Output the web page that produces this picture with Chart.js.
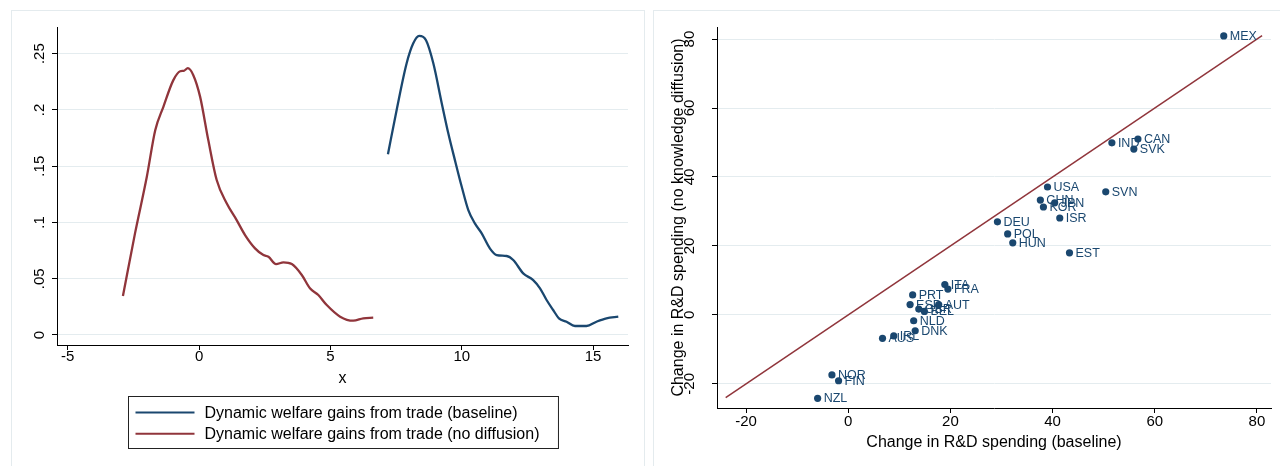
<!DOCTYPE html>
<html><head><meta charset="utf-8">
<script src="https://cdn.jsdelivr.net/npm/chart.js@4/dist/chart.umd.min.js"></script>
<style>
html,body{margin:0;padding:0;background:#fff;width:1280px;height:466px;overflow:hidden;}
.panel{position:absolute;border:1px solid #e4ebee;box-sizing:border-box;}
canvas{position:absolute;top:0;}
</style></head><body>
<div class="panel" style="left:11px;top:10px;width:634px;height:480px"></div>
<div class="panel" style="left:653px;top:10px;width:660px;height:480px"></div>
<canvas id="c1" width="640" height="466" style="left:0"></canvas>
<canvas id="c2" width="640" height="466" style="left:640px"></canvas>
<script>
// ---------- Left panel data (kernel densities) ----------
const baselineX = [7.19,7.52,7.90,8.15,8.38,8.64,8.92,9.24,9.49,9.74,10.00,10.25,10.50,10.76,11.07,11.33,11.71,11.96,12.34,12.72,12.98,13.23,13.48,13.70,13.99,14.31,14.75,15.13,15.51,15.96];
const baselineY = [0.1607,0.1998,0.2413,0.2590,0.2658,0.2620,0.2413,0.2058,0.1790,0.1554,0.1317,0.1110,0.0992,0.0903,0.0770,0.0710,0.0702,0.0666,0.0548,0.0488,0.0415,0.0311,0.0222,0.0148,0.0118,0.0080,0.0080,0.0118,0.0148,0.0163];
const noDiffX = [-2.90,-2.44,-1.99,-1.67,-1.36,-0.98,-0.72,-0.58,-0.43,-0.22,0.04,0.35,0.67,1.05,1.43,1.75,2.13,2.45,2.64,2.93,3.21,3.53,3.91,4.22,4.54,4.86,5.37,5.87,6.25,6.63];
const noDiffY = [0.0346,0.0903,0.1406,0.1820,0.2028,0.2265,0.2344,0.2348,0.2371,0.2309,0.2116,0.1732,0.1377,0.1170,0.1021,0.0888,0.0770,0.0710,0.0695,0.0630,0.0645,0.0630,0.0533,0.0415,0.0355,0.0266,0.0163,0.0127,0.0148,0.0154];
const seriesNames = ['Dynamic welfare gains from trade (baseline)','Dynamic welfare gains from trade (no diffusion)'];
const leftXTicks = [-5,0,5,10,15];
const leftYTicks = [0,0.05,0.1,0.15,0.2,0.25];
const leftYTickLabels = ['0','.05','.1','.15','.2','.25'];
const leftXTitle = 'x';

// ---------- Right panel data (R&D spending scatter) ----------
const countries = ['MEX','CAN','IND','SVK','SVN','USA','CHN','JPN','KOR','ISR','DEU','POL','HUN','EST','ITA','FRA','PRT','ESP','AUT','GBR','BEL','NLD','DNK','IRL','AUS','NOR','FIN','NZL'];
const rdBaseline = [73.5,56.7,51.6,55.9,50.4,39.0,37.6,40.4,38.2,41.4,29.2,31.2,32.2,43.3,18.9,19.5,12.6,12.1,17.7,13.8,14.9,12.8,13.1,8.9,6.7,-3.2,-1.9,-6.0];
const rdNoDiffusion = [80.9,51.0,49.9,48.1,35.7,37.1,33.3,32.5,31.3,28.1,27.0,23.5,20.9,18.0,8.8,7.5,5.8,3.0,3.0,1.7,1.0,-1.7,-4.6,-6.1,-6.8,-17.4,-19.1,-24.2];
const diagonal = [-24,81];
const rightXTicks = [-20,0,20,40,60,80];
const rightYTicks = [-20,0,20,40,60,80];
const rightXTitle = 'Change in R&D spending (baseline)';
const rightYTitle = 'Change in R&D spending (no knowledge diffusion)';

const NAVY = '#1a476f', MAROON = '#90353b', GRID = '#e4ecef';
const FONT = '"Liberation Sans", Arial, Helvetica, sans-serif';
Chart.defaults.font.family = FONT;
Chart.defaults.font.size = 15;
Chart.defaults.color = '#000';

const rotYLabels = {
  id: 'rotYLabels',
  afterDraw(chart, args, o) {
    const s = chart.scales.y, ctx = chart.ctx;
    ctx.save();
    ctx.font = o.size + 'px ' + FONT;
    ctx.fillStyle = '#000'; ctx.textAlign = 'center'; ctx.textBaseline = 'middle';
    s.ticks.forEach((t, i) => {
      const py = s.getPixelForValue(t.value);
      ctx.save(); ctx.translate(o.x, py); ctx.rotate(-Math.PI / 2);
      ctx.fillText(o.labels[i], 0, 0); ctx.restore();
    });
    ctx.restore();
  }
};

const boxLegend = {
  id: 'boxLegend',
  afterDraw(chart, args, o) {
    const ctx = chart.ctx, ca = chart.chartArea;
    ctx.save();
    ctx.font = o.size + 'px ' + FONT;
    const ds = chart.data.datasets;
    const tw = Math.max(...ds.map(d => ctx.measureText(d.label).width));
    const W = 7 + 59 + 10 + tw + 19;
    const cx = (ca.left + ca.right) / 2;
    const left = Math.round(cx - W / 2) + 0.5;
    ctx.strokeStyle = '#222'; ctx.lineWidth = 1;
    ctx.strokeRect(left, o.top + 0.5, W, o.height);
    ds.forEach((d, i) => {
      const y = o.top + o.firstRow + i * o.rowGap;
      ctx.strokeStyle = d.borderColor; ctx.lineWidth = 2;
      ctx.beginPath(); ctx.moveTo(left + 7, y); ctx.lineTo(left + 66, y); ctx.stroke();
      ctx.fillStyle = '#000'; ctx.textAlign = 'left'; ctx.textBaseline = 'middle';
      ctx.fillText(d.label, left + 76, y + 1);
    });
    ctx.restore();
  }
};

const pointLabels = {
  id: 'pointLabels',
  afterDatasetsDraw(chart) {
    const ctx = chart.ctx, meta = chart.getDatasetMeta(0);
    ctx.save();
    ctx.font = '12.5px ' + FONT;
    ctx.fillStyle = NAVY; ctx.textAlign = 'left'; ctx.textBaseline = 'middle';
    meta.data.forEach((pt, i) => ctx.fillText(countries[i], pt.x + 6, pt.y + 0.5));
    ctx.restore();
  }
};

function fixedTicks(values) { return (s) => { s.ticks = values.map(v => ({ value: v })); }; }

// ---------- Left chart ----------
new Chart(document.getElementById('c1'), {
  type: 'line',
  data: {
    datasets: [
      { label: seriesNames[0], data: baselineX.map((x, i) => ({ x, y: baselineY[i] })), borderColor: NAVY, borderWidth: 2.3, pointRadius: 0, cubicInterpolationMode: 'monotone', fill: false },
      { label: seriesNames[1], data: noDiffX.map((x, i) => ({ x, y: noDiffY[i] })), borderColor: MAROON, borderWidth: 2.3, pointRadius: 0, cubicInterpolationMode: 'monotone', fill: false }
    ]
  },
  options: {
    responsive: false, animation: false, events: [],
    layout: { padding: { left: 0, right: 12, top: 27, bottom: 0 } },
    plugins: {
      legend: { display: false }, tooltip: { enabled: false },
      rotYLabels: { x: 40, size: 15, labels: leftYTickLabels },
      boxLegend: { top: 396, height: 52, firstRow: 16.5, rowGap: 21.3, size: 16 }
    },
    scales: {
      x: {
        type: 'linear', min: -5.41, max: 16.33,
        afterBuildTicks: fixedTicks(leftXTicks),
        afterFit: (s) => { s.height = 121; },
        grid: { drawOnChartArea: false, drawTicks: true, tickLength: 5, tickColor: '#000' },
        border: { display: true, color: '#000', width: 1 },
        ticks: { padding: -2, font: { size: 15 }, maxRotation: 0, color: '#000' },
        title: { display: true, text: leftXTitle, font: { size: 16 }, padding: { top: 0, bottom: 78 } }
      },
      y: {
        type: 'linear', min: -0.00889, max: 0.2737,
        afterBuildTicks: fixedTicks(leftYTicks),
        afterFit: (s) => { s.width = 57; },
        grid: { color: GRID, lineWidth: 1, drawTicks: true, tickLength: 5, tickColor: '#000' },
        border: { display: true, color: '#000', width: 1 },
        ticks: { display: false }
      }
    }
  },
  plugins: [rotYLabels, boxLegend]
});

// ---------- Right chart ----------
new Chart(document.getElementById('c2'), {
  type: 'scatter',
  data: {
    datasets: [
      { label: 'countries', data: rdBaseline.map((x, i) => ({ x, y: rdNoDiffusion[i] })), backgroundColor: NAVY, borderWidth: 0, pointRadius: 3.6, order: 1 },
      { type: 'line', label: '45 degree line', data: diagonal.map(v => ({ x: v, y: v })), borderColor: MAROON, borderWidth: 1.5, pointRadius: 0, fill: false, order: 2 }
    ]
  },
  options: {
    responsive: false, animation: false, events: [],
    layout: { padding: { left: 0, right: 9, top: 27, bottom: 0 } },
    plugins: {
      legend: { display: false }, tooltip: { enabled: false },
      rotYLabels: { x: 50, size: 15, labels: rightYTicks.map(String) }
    },
    scales: {
      x: {
        type: 'linear', min: -25.7, max: 82.75,
        afterBuildTicks: fixedTicks(rightXTicks),
        afterFit: (s) => { s.height = 58; },
        grid: { drawOnChartArea: false, drawTicks: true, tickLength: 5, tickColor: '#000' },
        border: { display: true, color: '#000', width: 1 },
        ticks: { padding: 0, font: { size: 15 }, maxRotation: 0, color: '#000' },
        title: { display: true, text: rightXTitle, font: { size: 16 }, padding: { top: 0, bottom: 14 } }
      },
      y: {
        type: 'linear', min: -27, max: 83.5,
        afterBuildTicks: fixedTicks(rightYTicks),
        afterFit: (s) => { s.width = 77; },
        grid: { color: GRID, lineWidth: 1, drawTicks: true, tickLength: 5, tickColor: '#000' },
        border: { display: true, color: '#000', width: 1 },
        ticks: { display: false },
        title: { display: true, text: rightYTitle, font: { size: 16 }, padding: { top: 29, bottom: 0 } }
      }
    }
  },
  plugins: [rotYLabels, pointLabels]
});
</script>
</body></html>
